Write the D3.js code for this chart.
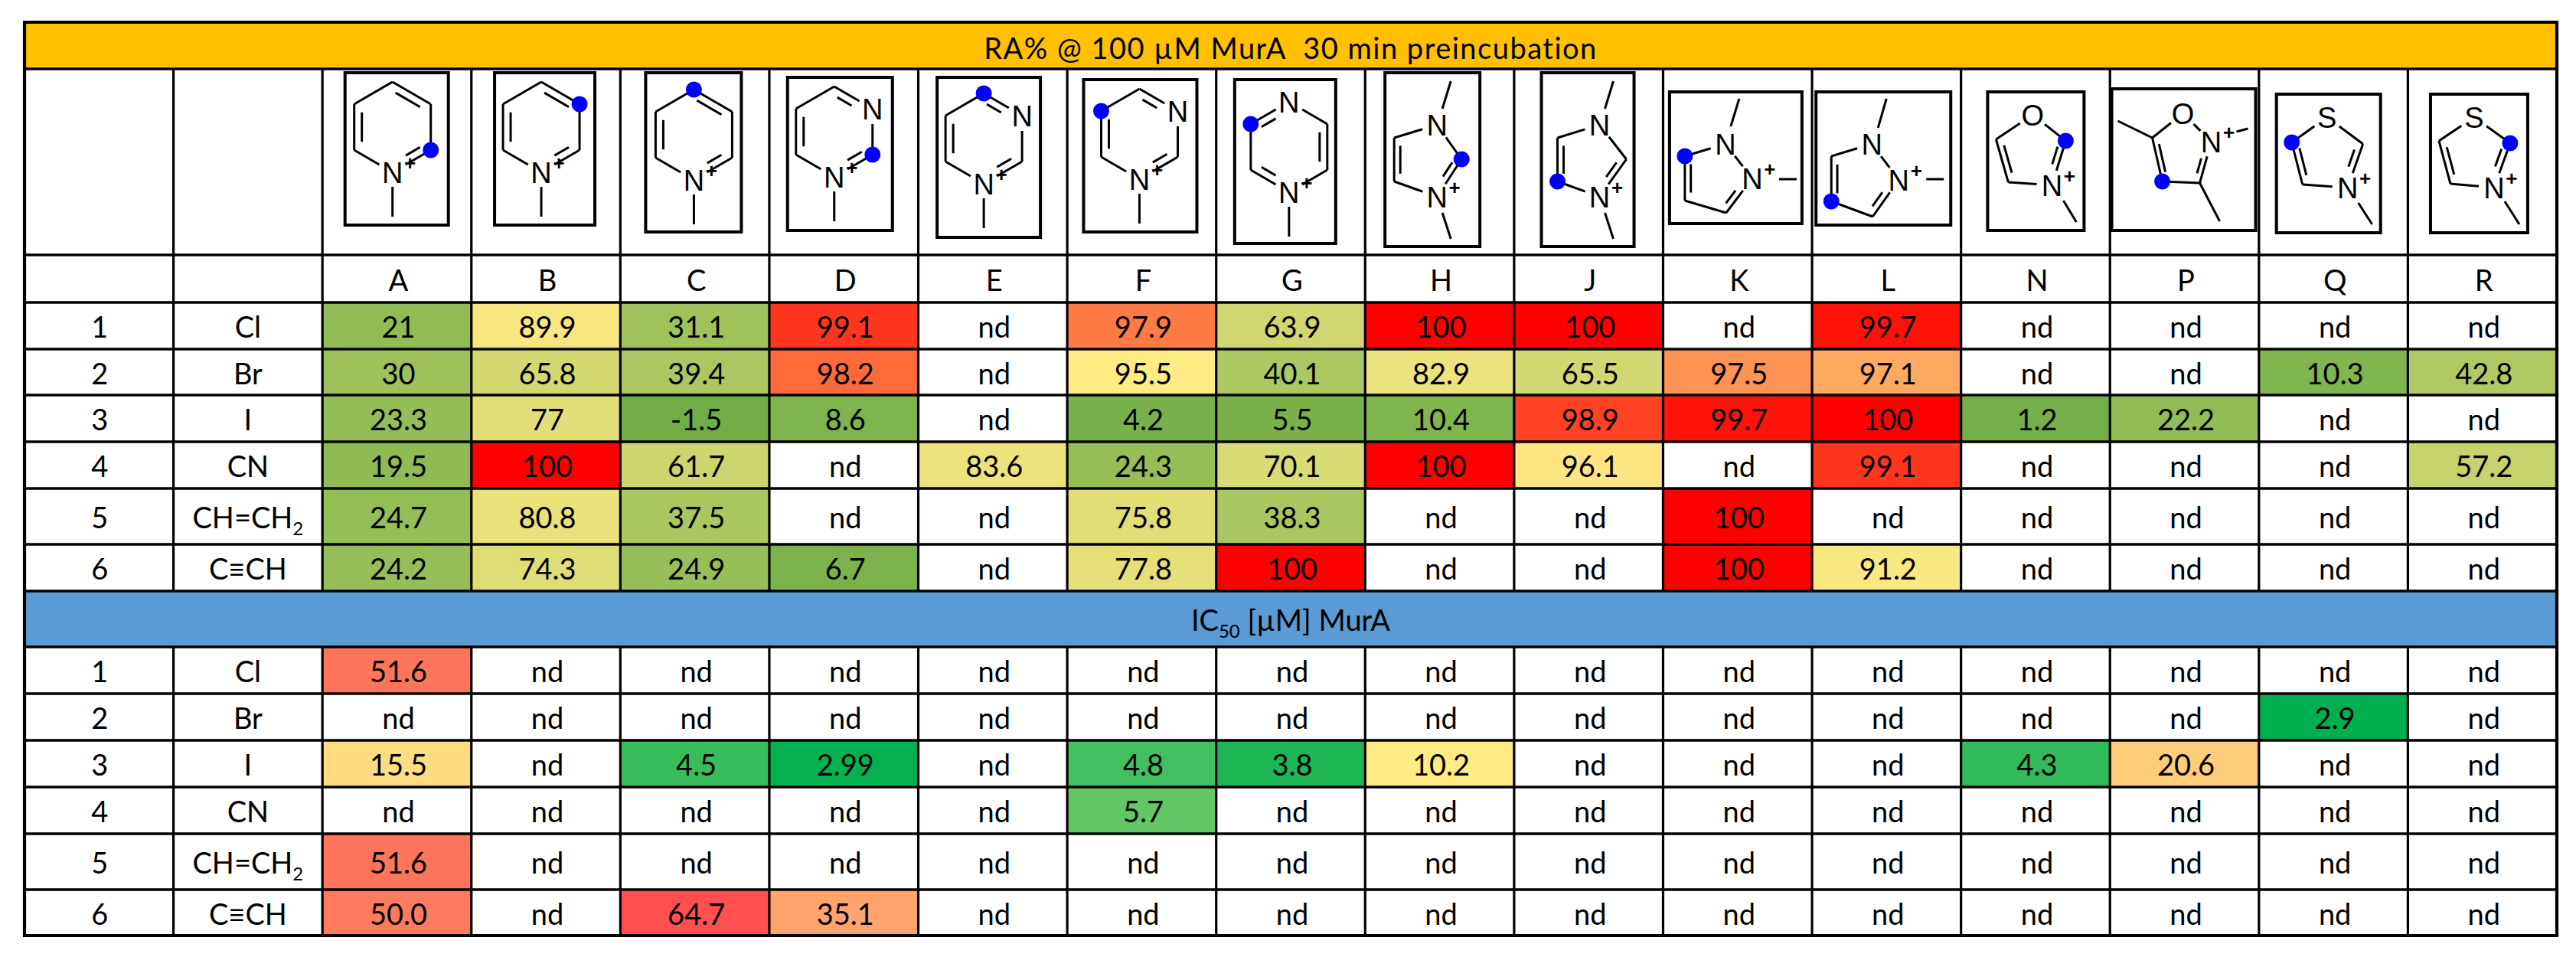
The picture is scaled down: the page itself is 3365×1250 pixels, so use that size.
<!DOCTYPE html>
<html><head><meta charset="utf-8">
<style>html,body{margin:0;padding:0;background:#fff}svg{display:block}</style>
<script src="https://cdn.jsdelivr.net/npm/d3@7/dist/d3.min.js"></script>
</head><body><div id="c"></div>
<script>
// ---------- data ----------
const columns = ["A","B","C","D","E","F","G","H","J","K","L","N","P","Q","R"];
const rowIds = ["1","2","3","4","5","6"];
const substituents = ["Cl","Br","I","CN","CH=CH|2","C≡CH"];
const titleRA = "RA% @ 100 µM MurA  30 min preincubation";
const titleIC = ["IC","50"," [µM] MurA"];
const ra1 = ["21","89.9","31.1","99.1","nd","97.9","63.9","100","100","nd","99.7","nd","nd","nd","nd"];
const ra2 = ["30","65.8","39.4","98.2","nd","95.5","40.1","82.9","65.5","97.5","97.1","nd","nd","10.3","42.8"];
const ra3 = ["23.3","77","-1.5","8.6","nd","4.2","5.5","10.4","98.9","99.7","100","1.2","22.2","nd","nd"];
const ra4 = ["19.5","100","61.7","nd","83.6","24.3","70.1","100","96.1","nd","99.1","nd","nd","nd","57.2"];
const ra5 = ["24.7","80.8","37.5","nd","nd","75.8","38.3","nd","nd","100","nd","nd","nd","nd","nd"];
const ra6 = ["24.2","74.3","24.9","6.7","nd","77.8","100","nd","nd","100","91.2","nd","nd","nd","nd"];
const ic1 = ["51.6","nd","nd","nd","nd","nd","nd","nd","nd","nd","nd","nd","nd","nd","nd"];
const ic2 = ["nd","nd","nd","nd","nd","nd","nd","nd","nd","nd","nd","nd","nd","2.9","nd"];
const ic3 = ["15.5","nd","4.5","2.99","nd","4.8","3.8","10.2","nd","nd","nd","4.3","20.6","nd","nd"];
const ic4 = ["nd","nd","nd","nd","nd","5.7","nd","nd","nd","nd","nd","nd","nd","nd","nd"];
const ic5 = ["51.6","nd","nd","nd","nd","nd","nd","nd","nd","nd","nd","nd","nd","nd","nd"];
const ic6 = ["50.0","nd","64.7","35.1","nd","nd","nd","nd","nd","nd","nd","nd","nd","nd","nd"];
const raRows = [ra1,ra2,ra3,ra4,ra5,ra6];
const icRows = [ic1,ic2,ic3,ic4,ic5,ic6];

// ---------- layout ----------
const W=3365,H=1250,L=32,R=3340;
const FONT="Lato, 'Open Sans', sans-serif", FS=38;
const rowKeys=["title","mol","letter","r1","r2","r3","r4","r5","r6","title2","i1","i2","i3","i4","i5","i6"];
const rowEdges=[29,90,333,395,456,516,577,638,711,772,845,906,967,1028,1089,1162,1222];
const yTop=d3.scaleOrdinal(rowKeys,rowEdges.slice(0,-1));
const yBot=d3.scaleOrdinal(rowKeys,rowEdges.slice(1));
const allCols=["id","sub",...columns];
const x=d3.scaleBand(allCols,[L,R]);
const molX=d3.scaleBand(allCols,[L,3336]);
const molNudge={L:1,N:1.8,P:2.6,Q:3.4,R:4.3};
const raColor=d3.scaleLinear([-1.5,96,100],["#70AD47","#FFEB84","#FF0000"]);
const icColor=d3.scaleLinear([2.9,10.2,64.7],["#00B050","#FFEB84","#FF5050"]);

const svg=d3.select("#c").append("svg").attr("width",W).attr("height",H).attr("viewBox",[0,0,W,H]);
svg.append("rect").attr("width",W).attr("height",H).attr("fill","#fff");

// section bands
svg.append("rect").attr("x",L).attr("width",R-L).attr("y",yTop("title")).attr("height",yBot("title")-yTop("title")).attr("fill","#FFC000");
svg.append("rect").attr("x",L).attr("width",R-L).attr("y",yTop("title2")).attr("height",yBot("title2")-yTop("title2")).attr("fill","#5B9BD5");

// text helper
function put(sel,xp,yp,txt,opts={}){
  const t=sel.append("text").attr("x",xp).attr("y",yp).attr("text-anchor",opts.anchor||"middle")
    .attr("font-family",opts.font||FONT).attr("font-size",opts.size||FS).attr("fill","#000");
  if(opts.weight)t.attr("font-weight",opts.weight);
  return t.text(txt);
}
const base=k=>(yTop(k)+yBot(k))/2+15.5;

// heat cells
function cells(rows,keys,color){
  rows.forEach((vals,ri)=>{
    const k=keys[ri];
    const g=svg.append("g");
    g.selectAll("rect").data(columns.map((c,i)=>({c,v:vals[i]})).filter(d=>d.v!=="nd")).join("rect")
      .attr("x",d=>x(d.c)).attr("width",x.bandwidth())
      .attr("y",yTop(k)).attr("height",yBot(k)-yTop(k))
      .attr("fill",d=>color(+d.v));
    g.selectAll("text").data(columns.map((c,i)=>({c,v:vals[i]}))).join("text")
      .attr("x",d=>x(d.c)+x.bandwidth()/2+2).attr("y",base(k))
      .attr("text-anchor","middle").attr("font-family",FONT).attr("font-size",FS).attr("fill","#000")
      .text(d=>d.v);
    put(svg,x("id")+x.bandwidth()/2+1,base(k),rowIds[ri]);
    const s=substituents[ri].split("|");
    const t=put(svg,x("sub")+x.bandwidth()/2,base(k),s[0]);
    if(s[1])t.append("tspan").attr("font-size",24).attr("dy",9).text(s[1]);
  });
}
cells(raRows,rowKeys.slice(3,9),raColor);
cells(icRows,rowKeys.slice(10,16),icColor);

// titles and letters
put(svg,(L+R)/2,yTop("title")+48,titleRA).attr("xml:space","preserve").style("white-space","pre").attr("letter-spacing",1.5);
const t2=put(svg,(L+R)/2,base("title2"),titleIC[0]);
t2.append("tspan").attr("font-size",24).attr("dy",9).text(titleIC[1]);
t2.append("tspan").attr("dy",-9).text(titleIC[2]);
svg.append("g").selectAll("text").data(columns).join("text")
  .attr("x",d=>x(d)+x.bandwidth()/2+2).attr("y",base("letter"))
  .attr("text-anchor","middle").attr("font-family",FONT).attr("font-size",FS).text(d=>d);

// ---------- molecule pictograms (local coords in each column cell) ----------
const hex=(cx,cy)=>[[cx,cy-59],[cx+50,cy-30],[cx+50,cy+30],[cx,cy+59],[cx-50,cy+30],[cx-50,cy-30]];
const mol6=(col,cx,cy,box,labels,doubles,dot)=>({col,v:hex(cx,cy),box,labels,doubles,dot,
  methyls:[[[cx,cy+59+19],[cx,cy+59+58]]]});
const D1=[[0,1],[2,3],[4,5]];
const molecules=[
  mol6("A",92,76,[30,5,165,204],{3:"N+"},D1,2),
  mol6("B",92,76,[31,5,162,204],{3:"N+"},D1,1),
  mol6("C",97,86,[34,5,159,213],{3:"N+"},D1,0),
  mol6("D",86,82,[25,11,162,211],{1:"N",3:"N+"},D1,2),
  mol6("E",87,91,[26,11,161,220],{1:"N",3:"N+"},D1,0),
  mol6("F",96,85,[23,14,171,213],{1:"N",3:"N+"},D1,5),
  mol6("G",97,102,[26,14,158,228],{0:"N",3:"N+"},[[5,0],[1,2],[3,4]],5),
  {col:"H",v:[[96,73],[128,118],[96,167],[40,147],[40,90]],box:[28,5,152,232],labels:{0:"N",2:"N+"},doubles:[[1,2],[3,4]],dot:1,
    methyls:[[[103,52],[114,16]],[[103,188],[114,222]]]},
  {col:"J",v:[[114,73],[149,118],[114,167],[59,147],[59,90]],box:[38,5,159,232],labels:{0:"N",2:"N+"},doubles:[[1,2],[3,4]],dot:3,
    methyls:[[[121,52],[132,16]],[[121,188],[132,222]]]},
  {col:"K",v:[[84,98],[119,143],[85,188],[31,172],[31,114]],box:[11,30,184,202],labels:{0:"N",1:"N+"},doubles:[[1,2],[3,4]],dot:4,
    methyls:[[[91,75],[102,39]],[[154,144],[177,144]]]},
  {col:"L",v:[[80,98],[115,145],[81,193],[27,173],[27,114]],box:[7,30,183,204],labels:{0:"N",1:"N+"},doubles:[[1,2],[3,4]],dot:3,
    methyls:[[[88,77],[99,39]],[[151,144],[174,144]]]},
  {col:"N",v:[[95,60],[138,94],[120,152],[63,148],[47,92]],box:[36,30,162,211],labels:{0:"O",2:"N+"},doubles:[[1,2],[3,4]],dot:1,
    methyls:[[[135,172],[152,200]]]},
  {col:"P",v:[[96,58],[133,95],[118,149],[69,147],[56,90]],box:[3,26,191,211],labels:{0:"O",1:"N+"},doubles:[[1,2],[3,4]],dot:3,
    methyls:[[[56,90],[11,68]],[[118,149],[144,199]],[[166,82],[181,78]]]},
  {col:"Q",v:[[89,63],[136,98],[116,155],[57,151],[43,96]],box:[23,33,159,214],labels:{0:"S",2:"N+"},doubles:[[1,2],[3,4]],dot:4,
    methyls:[[[130,175],[148,203]]]},
  {col:"R",v:[[86,63],[133,97],[112,155],[55,150],[40,94]],box:[29,33,156,214],labels:{0:"S",2:"N+"},doubles:[[1,2],[3,4]],dot:1,
    methyls:[[[126,173],[145,203]]]}
];
const line=d3.line();
const MF="'Liberation Sans', Arial, sans-serif";
function trim(a,b,ta,tb){
  const dx=b[0]-a[0],dy=b[1]-a[1],l=Math.hypot(dx,dy);
  return [[a[0]+dx*ta/l,a[1]+dy*ta/l],[b[0]-dx*tb/l,b[1]-dy*tb/l]];
}
molecules.forEach(m=>{
  const g=svg.append("g").attr("transform",`translate(${molX(m.col)+(molNudge[m.col]||0)},${yTop("mol")})`);
  const b=m.box;
  g.append("rect").attr("x",b[0]).attr("y",b[1]).attr("width",b[2]-b[0]).attr("height",b[3]-b[1])
    .attr("fill","#fff").attr("stroke","#000").attr("stroke-width",4);
  const n=m.v.length,cx=d3.mean(m.v,d=>d[0]),cy=d3.mean(m.v,d=>d[1]);
  const gap=i=>m.labels[i]?20:0;
  const bond=(a,b)=>g.append("path").attr("d",line([a,b])).attr("stroke","#000").attr("stroke-width",3).attr("fill","none");
  for(let i=0;i<n;i++){
    const j=(i+1)%n;
    const [a,b2]=trim(m.v[i],m.v[j],gap(i),gap(j));
    bond(a,b2);
  }
  m.doubles.forEach(([i,j])=>{
    const pi=[cx+.8*(m.v[i][0]-cx),cy+.8*(m.v[i][1]-cy)],pj=[cx+.8*(m.v[j][0]-cx),cy+.8*(m.v[j][1]-cy)];
    const len=Math.hypot(pi[0]-pj[0],pi[1]-pj[1]);
    const [a,b2]=trim(pi,pj,Math.max(gap(i),len*.1),Math.max(gap(j),len*.1));
    bond(a,b2);
  });
  m.methyls.forEach(s=>bond(s[0],s[1]));
  const d=m.v[m.dot];
  g.append("circle").attr("cx",d[0]).attr("cy",d[1]).attr("r",10.5).attr("fill","#0000FF");
  Object.entries(m.labels).forEach(([i,lab])=>{
    const p=m.v[+i];
    put(g,p[0],p[1]+14,lab[0],{font:MF,size:38});
    if(lab[1]) put(g,p[0]+23,p[1]-3,"+",{font:MF,size:26,weight:"bold"});
  });
});

// ---------- grid ----------
const gridG=svg.append("g").attr("stroke","#000");
gridG.selectAll("line.h").data(rowEdges).join("line")
  .attr("x1",L-2).attr("x2",R+2).attr("y1",d=>d).attr("y2",d=>d)
  .attr("stroke-width",(d,i)=>(i===0||i===rowEdges.length-1)?4.2:3.4);
const vKeys=[...allCols.slice(1)];
[[yBot("title"),yTop("title2")],[yBot("title2"),rowEdges[rowEdges.length-1]]].forEach(([y1,y2])=>{
  gridG.append("g").selectAll("line").data(vKeys).join("line")
    .attr("x1",d=>x(d)).attr("x2",d=>x(d)).attr("y1",y1).attr("y2",y2).attr("stroke-width",3.2);
});
[L,R].forEach(v=>gridG.append("line").attr("x1",v).attr("x2",v).attr("y1",rowEdges[0]).attr("y2",rowEdges[rowEdges.length-1]).attr("stroke-width",4.2));
</script></body></html>
